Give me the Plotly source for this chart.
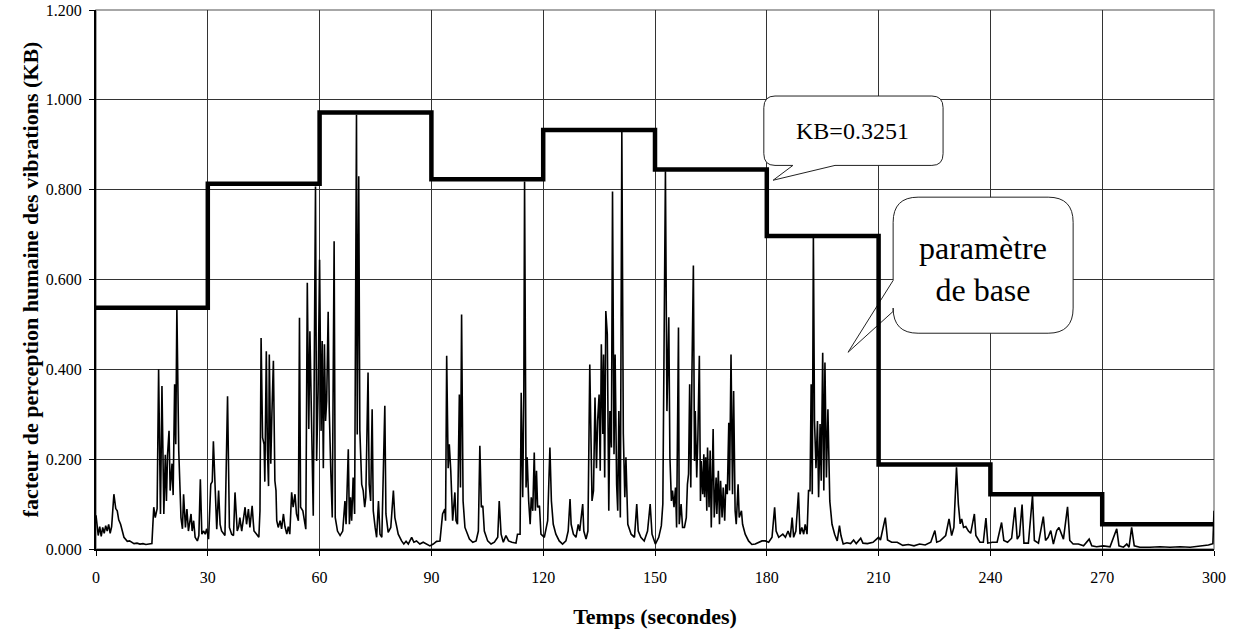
import plotly.graph_objects as go

# ---- data ----
step_edges = [0, 30, 60, 90, 120, 150, 180, 210, 240, 270, 300]
step_kb = [0.537, 0.813, 0.972, 0.823, 0.933, 0.845, 0.697, 0.188, 0.122, 0.055]

time_s = [
    0.0, 0.3, 0.6, 1.0, 1.4, 1.8, 2.2, 2.6, 3.0, 3.4, 3.8, 4.2, 4.8, 5.3, 5.7, 6.1, 6.6, 7.5, 8.4, 9.0,
    9.6, 10.2, 11.0, 11.8, 12.6, 13.4, 14.2, 15.0, 15.5, 15.9, 16.4, 16.8, 17.3, 17.7, 18.2, 18.6, 18.9, 19.2, 19.6, 19.9,
    20.4, 20.7, 21.1, 21.4, 21.7, 22.2, 22.8, 23.2, 23.5, 24.0, 24.4, 24.8, 25.5, 25.8, 26.2, 26.6, 27.2, 27.6, 28.0, 28.4,
    28.9, 29.3, 29.7, 30.2, 30.8, 31.2, 31.5, 32.0, 32.4, 32.9, 33.3, 33.7, 34.2, 34.6, 35.3, 35.6, 35.8, 36.4, 36.9, 37.3,
    37.8, 37.9, 38.3, 38.6, 39.1, 39.5, 40.0, 40.4, 40.9, 41.3, 41.9, 42.2, 42.4, 43.1, 43.7, 44.0, 44.3, 44.7, 45.1, 45.3,
    45.7, 46.0, 46.3, 46.5, 46.9, 47.2, 47.6, 48.0, 48.3, 48.5, 48.9, 49.4, 49.8, 50.3, 50.7, 51.2, 51.6, 52.0, 52.5, 52.9,
    53.4, 53.8, 54.3, 54.6, 54.9, 55.5, 55.8, 56.3, 56.7, 57.1, 57.4, 57.9, 58.3, 58.9, 59.2, 59.6, 60.0, 60.4, 60.7, 61.0,
    61.3, 61.6, 61.9, 62.3, 62.6, 63.0, 63.4, 63.9, 64.2, 64.8, 65.5, 66.2, 66.8, 67.1, 67.7, 68.0, 68.3, 68.6, 69.0, 69.4,
    69.9, 70.1, 70.5, 70.8, 71.3, 71.7, 72.1, 72.4, 73.0, 73.3, 73.7, 74.1, 74.4, 74.9, 75.3, 75.8, 76.2, 76.7, 77.1, 77.5,
    77.8, 78.4, 79.1, 79.8, 80.2, 80.7, 81.1, 82.0, 82.6, 83.2, 83.8, 84.7, 85.3, 86.0, 86.9, 87.8, 88.7, 89.6, 90.5, 91.4,
    92.3, 93.0, 93.6, 93.8, 94.1, 94.5, 94.8, 95.2, 95.7, 96.3, 96.6, 97.0, 97.5, 97.8, 98.1, 98.5, 99.0, 99.9, 100.2, 101.1,
    102.0, 102.6, 103.0, 103.4, 103.8, 104.2, 105.1, 106.0, 106.9, 107.8, 108.2, 108.7, 109.3, 110.0, 110.7, 111.6, 112.7, 113.1, 113.8, 114.1,
    114.5, 114.8, 115.0, 115.4, 115.7, 116.1, 116.5, 116.8, 117.2, 117.6, 117.9, 118.2, 118.5, 119.0, 119.4, 120.3, 121.2, 121.8, 122.2, 122.7,
    123.4, 124.3, 125.2, 126.1, 126.7, 127.2, 127.5, 128.1, 128.8, 129.4, 129.8, 130.1, 130.6, 130.9, 131.5, 132.0, 132.5, 133.1, 133.5, 133.9,
    134.3, 134.6, 135.0, 135.3, 135.6, 136.0, 136.2, 136.5, 136.8, 137.2, 137.6, 137.9, 138.3, 138.6, 139.0, 139.3, 139.7, 140.0, 140.3, 140.7,
    141.1, 141.5, 141.9, 142.2, 142.7, 143.6, 144.5, 145.1, 145.5, 146.2, 147.1, 148.0, 148.7, 149.2, 150.1, 151.0, 151.7, 152.1, 152.8, 153.2,
    153.7, 154.0, 154.4, 154.7, 155.1, 155.5, 155.8, 156.3, 156.5, 157.0, 157.4, 157.9, 158.4, 158.7, 159.0, 159.3, 159.6, 159.9, 160.3, 160.6,
    160.8, 161.2, 161.5, 161.9, 162.2, 162.4, 162.8, 163.1, 163.3, 163.6, 163.9, 164.1, 164.5, 164.8, 165.1, 165.6, 165.9, 166.4, 166.6, 167.0,
    167.3, 167.6, 168.0, 168.3, 168.7, 169.0, 169.4, 169.8, 170.0, 170.4, 170.8, 171.1, 171.5, 171.8, 172.3, 172.6, 173.2, 173.5, 174.2, 175.1,
    176.0, 176.9, 177.8, 178.7, 179.6, 180.5, 181.4, 182.1, 182.5, 183.2, 184.3, 185.0, 185.7, 186.3, 186.8, 187.2, 187.8, 188.5, 188.9, 189.4,
    189.9, 190.3, 190.8, 191.2, 191.6, 191.9, 192.2, 192.5, 192.8, 193.2, 193.6, 193.9, 194.3, 194.6, 195.0, 195.3, 195.6, 196.0, 196.4, 196.9,
    197.5, 198.2, 198.9, 199.5, 199.9, 200.5, 201.5, 202.5, 203.3, 204.0, 205.2, 205.8, 207.0, 208.5, 210.0, 210.5, 211.8, 212.4, 213.5, 215.0,
    216.5, 218.0, 219.5, 221.0, 222.5, 224.0, 225.1, 225.6, 226.5, 227.3, 228.0, 228.9, 229.6, 230.2, 230.9, 231.4, 231.9, 232.3, 232.8, 233.4,
    234.1, 234.7, 235.7, 236.1, 237.2, 238.1, 238.8, 239.3, 240.5, 241.8, 243.0, 243.6, 244.6, 245.7, 246.6, 247.2, 247.8, 248.5, 249.0, 250.2,
    251.3, 251.8, 252.9, 254.2, 254.8, 255.5, 256.2, 256.9, 257.8, 258.4, 259.1, 259.6, 260.7, 261.3, 262.2, 263.6, 265.0, 266.5, 267.2, 268.5,
    270.3, 272.1, 273.9, 274.5, 275.7, 276.6, 277.2, 277.9, 278.6, 280.1, 282.8, 285.5, 288.2, 290.9, 293.6, 296.2, 298.5, 299.4, 299.7, 300.0,
]

kb_values = [
    0.075, 0.045, 0.030, 0.050, 0.028, 0.048, 0.035, 0.052, 0.040, 0.055, 0.035, 0.050, 0.122, 0.090, 0.085, 0.065, 0.055, 0.026, 0.017, 0.018,
    0.014, 0.012, 0.013, 0.011, 0.012, 0.010, 0.011, 0.012, 0.093, 0.070, 0.090, 0.400, 0.078, 0.363, 0.078, 0.210, 0.107, 0.210, 0.263, 0.130,
    0.190, 0.120, 0.367, 0.233, 0.537, 0.220, 0.070, 0.045, 0.122, 0.048, 0.089, 0.040, 0.078, 0.040, 0.063, 0.026, 0.018, 0.030, 0.155, 0.033,
    0.040, 0.033, 0.045, 0.022, 0.144, 0.150, 0.240, 0.107, 0.044, 0.130, 0.055, 0.040, 0.033, 0.030, 0.340, 0.110, 0.048, 0.033, 0.030, 0.126,
    0.060, 0.040, 0.050, 0.070, 0.040, 0.060, 0.093, 0.055, 0.089, 0.048, 0.096, 0.060, 0.040, 0.033, 0.026, 0.085, 0.470, 0.248, 0.233, 0.150,
    0.440, 0.220, 0.140, 0.433, 0.190, 0.300, 0.419, 0.152, 0.130, 0.063, 0.048, 0.063, 0.045, 0.078, 0.050, 0.033, 0.050, 0.033, 0.126, 0.093,
    0.122, 0.078, 0.063, 0.515, 0.093, 0.085, 0.070, 0.044, 0.593, 0.267, 0.485, 0.196, 0.074, 0.807, 0.196, 0.352, 0.644, 0.263, 0.463, 0.180,
    0.456, 0.285, 0.330, 0.528, 0.307, 0.174, 0.070, 0.685, 0.070, 0.040, 0.030, 0.040, 0.107, 0.055, 0.222, 0.055, 0.115, 0.063, 0.159, 0.078,
    0.967, 0.255, 0.830, 0.263, 0.144, 0.130, 0.093, 0.115, 0.393, 0.144, 0.107, 0.311, 0.085, 0.048, 0.026, 0.107, 0.033, 0.026, 0.144, 0.319,
    0.078, 0.037, 0.048, 0.130, 0.070, 0.048, 0.033, 0.018, 0.011, 0.017, 0.011, 0.026, 0.015, 0.018, 0.011, 0.015, 0.011, 0.007, 0.011, 0.017,
    0.018, 0.078, 0.089, 0.063, 0.430, 0.180, 0.233, 0.174, 0.063, 0.126, 0.063, 0.055, 0.344, 0.137, 0.522, 0.107, 0.048, 0.026, 0.022, 0.015,
    0.018, 0.040, 0.230, 0.093, 0.096, 0.040, 0.018, 0.011, 0.015, 0.026, 0.107, 0.033, 0.015, 0.030, 0.018, 0.015, 0.013, 0.033, 0.033, 0.348,
    0.115, 0.344, 0.818, 0.137, 0.204, 0.107, 0.055, 0.115, 0.085, 0.215, 0.085, 0.174, 0.093, 0.096, 0.033, 0.026, 0.063, 0.226, 0.107, 0.055,
    0.033, 0.018, 0.011, 0.018, 0.040, 0.111, 0.055, 0.033, 0.026, 0.055, 0.040, 0.063, 0.100, 0.040, 0.022, 0.040, 0.411, 0.107, 0.130, 0.337,
    0.180, 0.285, 0.344, 0.174, 0.456, 0.256, 0.433, 0.159, 0.530, 0.478, 0.085, 0.307, 0.226, 0.796, 0.211, 0.433, 0.144, 0.085, 0.307, 0.070,
    0.930, 0.256, 0.115, 0.204, 0.055, 0.033, 0.026, 0.100, 0.040, 0.026, 0.018, 0.040, 0.100, 0.033, 0.011, 0.026, 0.052, 0.100, 0.841, 0.307,
    0.516, 0.204, 0.107, 0.130, 0.093, 0.137, 0.048, 0.493, 0.055, 0.100, 0.048, 0.048, 0.070, 0.144, 0.167, 0.367, 0.137, 0.381, 0.631, 0.196,
    0.307, 0.159, 0.248, 0.430, 0.107, 0.196, 0.122, 0.211, 0.115, 0.204, 0.085, 0.226, 0.093, 0.219, 0.048, 0.267, 0.070, 0.159, 0.078, 0.174,
    0.055, 0.152, 0.070, 0.137, 0.063, 0.144, 0.122, 0.281, 0.130, 0.433, 0.122, 0.352, 0.085, 0.055, 0.144, 0.070, 0.085, 0.055, 0.033, 0.018,
    0.010, 0.011, 0.015, 0.018, 0.018, 0.015, 0.026, 0.093, 0.040, 0.026, 0.033, 0.026, 0.040, 0.026, 0.070, 0.026, 0.040, 0.126, 0.033, 0.048,
    0.033, 0.055, 0.033, 0.130, 0.130, 0.367, 0.122, 0.697, 0.285, 0.180, 0.285, 0.115, 0.278, 0.152, 0.437, 0.130, 0.415, 0.159, 0.311, 0.107,
    0.055, 0.033, 0.018, 0.052, 0.030, 0.011, 0.014, 0.012, 0.020, 0.012, 0.024, 0.013, 0.012, 0.015, 0.026, 0.020, 0.070, 0.020, 0.015, 0.015,
    0.008, 0.010, 0.007, 0.011, 0.009, 0.015, 0.041, 0.015, 0.018, 0.024, 0.030, 0.067, 0.030, 0.048, 0.182, 0.100, 0.056, 0.067, 0.048, 0.050,
    0.040, 0.035, 0.078, 0.030, 0.015, 0.015, 0.069, 0.013, 0.015, 0.015, 0.059, 0.019, 0.015, 0.024, 0.093, 0.022, 0.030, 0.099, 0.013, 0.013,
    0.119, 0.019, 0.013, 0.072, 0.019, 0.026, 0.041, 0.011, 0.041, 0.048, 0.033, 0.022, 0.094, 0.019, 0.011, 0.011, 0.007, 0.022, 0.007, 0.005,
    0.007, 0.005, 0.045, 0.007, 0.004, 0.011, 0.004, 0.048, 0.007, 0.004, 0.004, 0.005, 0.004, 0.005, 0.004, 0.006, 0.009, 0.011, 0.012, 0.085,
]

x_ticks = [0, 30, 60, 90, 120, 150, 180, 210, 240, 270, 300]
y_ticks = [0.0, 0.2, 0.4, 0.6, 0.8, 1.0, 1.2]

x_title = "Temps (secondes)"
y_title = "facteur de perception humaine des vibrations (KB)"
callout_kb = "KB=0.3251"
callout_base = "paramètre<br>de base"

FONT = "Liberation Serif, Times New Roman, serif"

fig = go.Figure()
fig.add_trace(go.Scatter(x=time_s, y=kb_values, mode="lines",
                         line=dict(color="black", width=1.6), hoverinfo="skip"))
fig.add_trace(go.Scatter(x=step_edges, y=step_kb + [step_kb[-1]], mode="lines",
                         line=dict(color="black", width=4.5, shape="hv"), hoverinfo="skip"))


def rounded_callout(x0, x1, y0, y1, rx, ry, tail):
    side, a, tip, b = tail
    p = f"M {x0+rx},{y1} L {x1-rx},{y1} Q {x1},{y1} {x1},{y1-ry} "
    p += f"L {x1},{y0+ry} Q {x1},{y0} {x1-rx},{y0} "
    if side == "bottom":
        p += f"L {b},{y0} L {tip[0]},{tip[1]} L {a},{y0} "
    p += f"L {x0+rx},{y0} Q {x0},{y0} {x0},{y0+ry} "
    if side == "left":
        p += f"L {x0},{b} L {tip[0]},{tip[1]} L {x0},{a} "
    p += f"L {x0},{y1-ry} Q {x0},{y1} {x0+rx},{y1} Z"
    return p


kb_path = rounded_callout(179.2, 227.3, 0.854, 1.0085, 3.0, 0.026,
                          ("bottom", 187.0, (181.7, 0.821), 198.3))
base_path = rounded_callout(213.9, 262.2, 0.4804, 0.7833, 6.7, 0.056,
                            ("left", 0.598, (201.8, 0.438), 0.529))

shapes = [
    dict(type="path", path=kb_path, xref="x", yref="y", fillcolor="white",
         line=dict(color="#222", width=1), layer="between"),
    dict(type="path", path=base_path, xref="x", yref="y", fillcolor="white",
         line=dict(color="#222", width=1), layer="between"),
    dict(type="rect", xref="paper", yref="paper", x0=0, x1=1, y0=0, y1=1,
         line=dict(color="#8a8a8a", width=1.5), layer="between"),
]

annotations = [
    dict(x=203.1, y=0.930, xref="x", yref="y", text=callout_kb, showarrow=False,
         font=dict(family=FONT, size=24, color="black")),
    dict(x=238.0, y=0.623, xref="x", yref="y", text=callout_base, showarrow=False,
         font=dict(family=FONT, size=32, color="black")),
]

fig.update_layout(
    width=1240, height=633,
    margin=dict(l=96, r=26, t=10, b=84, autoexpand=False),
    plot_bgcolor="white", paper_bgcolor="white",
    showlegend=False,
    font=dict(family=FONT, color="black"),
    shapes=shapes, annotations=annotations,
)
fig.update_xaxes(
    automargin=False,
    range=[0, 300], tickvals=x_ticks, showgrid=True, gridcolor="#333", gridwidth=1,
    showline=True, linecolor="black", linewidth=2, zeroline=False,
    ticks="outside", ticklen=5, tickcolor="black", tickwidth=1,
    tickfont=dict(family=FONT, size=16), ticklabelstandoff=8,
    title=dict(text=x_title, font=dict(family=FONT, size=22, weight="bold"), standoff=23),
)
fig.update_yaxes(
    automargin=False,
    range=[0, 1.2], tickvals=y_ticks, tickformat=".3f", showgrid=True, gridcolor="#333", gridwidth=1,
    showline=True, linecolor="black", linewidth=2, zeroline=False,
    ticks="outside", ticklen=5, tickcolor="black", tickwidth=1,
    tickfont=dict(family=FONT, size=16), ticklabelstandoff=4,
    title=dict(text=y_title, font=dict(family=FONT, size=22, weight="bold"), standoff=1),
)

fig.write_html(
    "out.html",
    config={"displayModeBar": False, "staticPlot": True},
    post_script="document.body.style.margin='0';document.body.style.overflow='hidden';",
)
